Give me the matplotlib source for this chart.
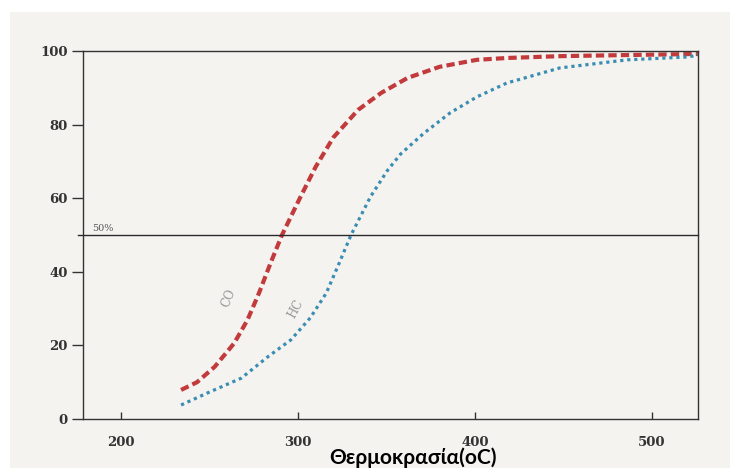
import matplotlib
matplotlib.use('Agg')
import matplotlib.pyplot as plt
from matplotlib.patches import Rectangle

# temperature (oC) vs conversion (%)
co_temp = [234, 243, 253, 264, 271.5, 278, 284.5, 291, 301.5, 310, 320,
           334, 347, 362, 380, 401, 418, 448, 486, 526]
co_conv = [7.9, 10, 14.2, 20.6, 26.9, 34.2, 42.3, 50, 60.4, 68.5, 76.5,
           84, 88.6, 92.7, 95.7, 97.6, 98.1, 98.6, 98.9, 99.2]

hc_temp = [234, 249, 268, 275, 283, 296, 307, 316, 323, 330, 341, 350.5,
           358, 371, 386, 401, 418, 448, 486, 521, 526]
hc_conv = [3.8, 7.1, 11.1, 13.8, 16.9, 21.5, 27.5, 34.2, 42, 50, 60.4, 67.5,
           72.0, 77.6, 83.2, 87.5, 91.3, 95.4, 97.6, 98.4, 99]

x_ticks = [200, 300, 400, 500]
y_ticks = [0, 20, 40, 60, 80, 100]
x_label = "Θερμοκρασία(oC)"

fig = plt.figure(figsize=(7.30, 4.74), dpi=100, facecolor='white')
# scanned paper background
fig.patches.append(Rectangle((10 / 730, 6 / 474), 720 / 730, 456 / 474,
                             transform=fig.transFigure, facecolor='#f4f3f0',
                             edgecolor='none', zorder=-5))

ax = fig.add_axes([83 / 730, 55 / 474, 615 / 730, 368 / 474])
ax.set_facecolor('none')
ax.set_zorder(2)

ax.plot(co_temp, co_conv, color='#c23a3c', lw=3.0, linestyle=(0, (2.0, 1.0)),
        solid_capstyle='butt')
ax.plot(hc_temp, hc_conv, color='#3a8db2', lw=2.3, linestyle=(0, (1, 1.2)))

# 50% reference line, runs a bit past the left spine
ax.plot([-0.008, 1], [50, 50], transform=ax.get_yaxis_transform(),
        color='#2a2a2a', lw=1.0, clip_on=False)
ax.text(184, 51, "50%", fontsize=7, family='DejaVu Serif', color='#555555')

ax.text(261, 33, "CO", rotation=68, fontsize=8.5, family='DejaVu Serif',
        color='#999999', ha='center', va='center')
ax.text(299, 30, "HC", rotation=62, fontsize=8.5, family='DejaVu Serif',
        color='#999999', ha='center', va='center')

ax.set_xlim(178.6, 526)
ax.set_ylim(0, 100)
ax.set_xticks(x_ticks)
ax.set_yticks(y_ticks)

for sp in ax.spines.values():
    sp.set_color('#333333')
    sp.set_linewidth(1.0)

ax.tick_params(axis='y', direction='out', length=8, width=1, pad=3,
               color='#333333', labelcolor='#333333')
ax.tick_params(axis='x', direction='in', length=5, width=1, pad=12,
               color='#333333', labelcolor='#333333')
for lab in ax.get_xticklabels() + ax.get_yticklabels():
    lab.set_family('DejaVu Serif')
    lab.set_fontweight('bold')
    lab.set_fontsize(9.5)

fig.text(413 / 730, 1 - 458 / 474, x_label, family='Lato', fontweight='bold',
         fontsize=15, ha='center', va='center', color='black')

plt.savefig('out.png', dpi=100, facecolor=fig.get_facecolor())
plt.close()
